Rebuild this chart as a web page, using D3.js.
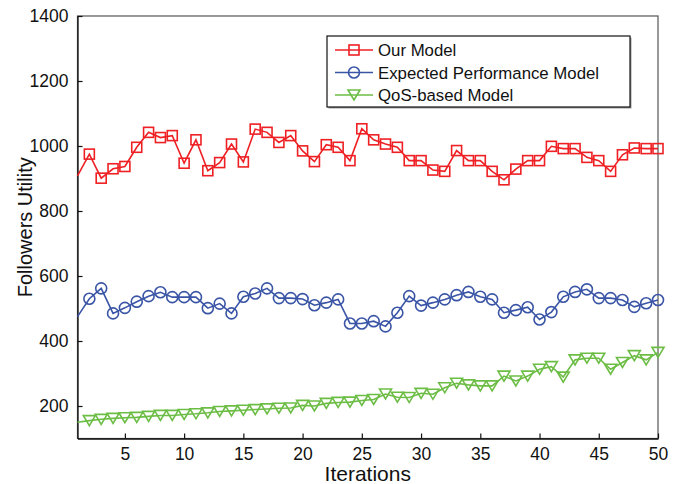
<!DOCTYPE html>
<html>
<head>
<meta charset="utf-8">
<script src="https://d3js.org/d3.v7.min.js"></script>
<style>
  body { margin: 0; background: #fff; }
  text { font-family: 'Liberation Sans', Arial, sans-serif; }
</style>
</head>
<body>
<div id="chart"></div>
<script>
// iterations 1..50
var iterations = d3.range(1, 51)

var ourModel = [908, 975, 901, 930, 937, 996, 1042, 1026, 1032, 947,
  1019, 924, 949, 1006, 951, 1052, 1042, 1011, 1032, 985,
  952, 1004, 996, 955, 1053, 1019, 1006, 996, 955, 955,
  926, 922, 986, 955, 955, 922, 896, 929, 955, 955,
  999, 992, 992, 965, 955, 922, 973, 994, 992, 992]

var expectedModel = [475, 530, 562, 485, 502, 521, 538, 550, 535, 535,
  535, 501, 515, 485, 536, 546, 562, 532, 532, 529,
  510, 518, 528, 454, 454, 461, 445, 487, 538, 509,
  518, 528, 541, 551, 536, 528, 487, 495, 504, 466,
  489, 536, 551, 559, 532, 532, 526, 505, 516, 526]

var qosModel = [150, 155, 159, 162, 164, 165, 168, 171, 171, 174,
  176, 179, 183, 185, 187, 189, 191, 193, 194, 202,
  200, 208, 211, 212, 217, 220, 237, 227, 226, 239,
  236, 256, 270, 265, 262, 262, 292, 277, 292, 313,
  321, 289, 342, 347, 347, 313, 334, 355, 342, 365]

var seriesNames = ['Our Model', 'Expected Performance Model', 'QoS-based Model']
var xTicks = [5, 10, 15, 20, 25, 30, 35, 40, 45, 50]
var yTicks = [200, 400, 600, 800, 1000, 1200, 1400]

var width = 678
var height = 484
var margin = { top: 16, right: 20, bottom: 45.5, left: 77.5 }

var colors = ['#ee2024', '#3a55a6', '#6cbd45']
var shapes = ['square', 'circle', 'triangle']

var series = [ourModel, expectedModel, qosModel].map(function (vals, i) {
  return {
    name: seriesNames[i],
    color: colors[i],
    shape: shapes[i],
    values: vals.map(function (v, j) { return { x: iterations[j], y: v } })
  }
})

var svg = d3.select('#chart')
  .append('svg')
  .attr('width', width)
  .attr('height', height)

var x = d3.scaleLinear()
  .domain([1, 50])
  .range([margin.left, width - margin.right])

var y = d3.scaleLinear()
  .domain([100, 1400])
  .range([height - margin.bottom, margin.top])

// plot frame
svg.append('rect')
  .attr('x', margin.left)
  .attr('y', margin.top)
  .attr('width', x(50) - x(1))
  .attr('height', y(100) - y(1400))
  .attr('fill', 'none')
  .attr('stroke', '#555')
  .attr('stroke-width', 1.2)

// axes, ticks inward like matlab
var xAxis = d3.axisBottom(x).tickValues(xTicks).tickFormat(d3.format('d'))
  .tickSizeInner(-5).tickSizeOuter(0).tickPadding(9)
var yAxis = d3.axisLeft(y).tickValues(yTicks).tickFormat(d3.format('d'))
  .tickSizeInner(-5).tickSizeOuter(0).tickPadding(9)

var gx = svg.append('g')
  .attr('transform', 'translate(0,' + y(100) + ')')
  .call(xAxis)
var gy = svg.append('g')
  .attr('transform', 'translate(' + margin.left + ',0)')
  .call(yAxis)

;[gx, gy].forEach(function (g) {
  g.select('.domain').attr('stroke', '#111').attr('stroke-width', 1.3)
  g.selectAll('.tick line').attr('stroke', '#111').attr('stroke-width', 1.2)
  g.selectAll('.tick text')
    .attr('font-size', '17.5px')
    .attr('fill', '#111')
    .style('font-family', "'Liberation Sans', Arial, sans-serif")
})

svg.append('text')
  .attr('x', (x(1) + x(50)) / 2)
  .attr('y', 481)
  .attr('text-anchor', 'middle')
  .attr('font-size', '21px')
  .attr('fill', '#111')
  .text('Iterations')

svg.append('text')
  .attr('transform', 'translate(32,' + ((y(100) + y(1400)) / 2) + ') rotate(-90)')
  .attr('text-anchor', 'middle')
  .attr('font-size', '20px')
  .attr('fill', '#111')
  .text('Followers Utility')

var line = d3.line()
  .x(function (d) { return x(d.x) })
  .y(function (d) { return y(d.y) })

function drawMarker (g, shape, color) {
  if (shape === 'square') {
    g.append('rect')
      .attr('x', -5).attr('y', -5)
      .attr('width', 10).attr('height', 10)
      .attr('fill', 'none').attr('stroke', color).attr('stroke-width', 1.6)
  } else if (shape === 'circle') {
    g.append('circle')
      .attr('r', 5.5)
      .attr('fill', 'none').attr('stroke', color).attr('stroke-width', 1.6)
  } else {
    g.append('path')
      .attr('d', 'M-6,-5L6,-5L0,5Z')
      .attr('fill', 'none').attr('stroke', color).attr('stroke-width', 1.6)
  }
}

var plot = svg.append('g')

series.forEach(function (s) {
  plot.append('path')
    .datum(s.values)
    .attr('d', line)
    .attr('fill', 'none')
    .attr('stroke', s.color)
    .attr('stroke-width', 1.6)

  // no marker drawn on the y axis itself
  plot.selectAll(null)
    .data(s.values.filter(function (d) { return d.x > 1 }))
    .enter().append('g')
    .attr('transform', function (d) { return 'translate(' + x(d.x) + ',' + y(d.y) + ')' })
    .each(function () { drawMarker(d3.select(this), s.shape, s.color) })
})

// legend
var legend = svg.append('g')
  .attr('transform', 'translate(327,36)')

legend.append('rect')
  .attr('x', 1.5).attr('y', 1.5)
  .attr('width', 303).attr('height', 71)
  .attr('fill', '#999')
legend.append('rect')
  .attr('width', 303).attr('height', 71)
  .attr('fill', '#fff')
  .attr('stroke', '#111')
  .attr('stroke-width', 1.2)

series.forEach(function (s, i) {
  var row = legend.append('g')
    .attr('transform', 'translate(0,' + (14 + i * 22.5) + ')')
  row.append('line')
    .attr('x1', 8).attr('x2', 46)
    .attr('stroke', s.color)
    .attr('stroke-width', 1.6)
  var m = row.append('g').attr('transform', 'translate(27,0)')
  drawMarker(m, s.shape, s.color)
  row.append('text')
    .attr('x', 51)
    .attr('y', 6)
    .attr('font-size', '16.8px')
    .attr('fill', '#111')
    .text(s.name)
})
</script>
</body>
</html>
